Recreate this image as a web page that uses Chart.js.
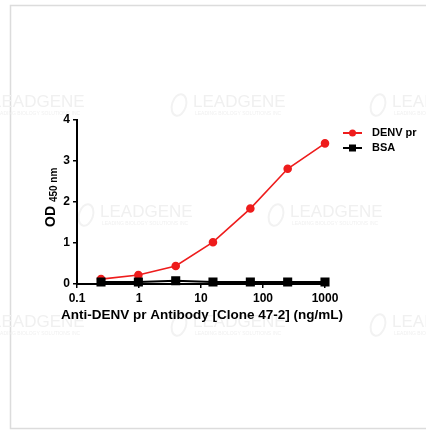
<!DOCTYPE html>
<html>
<head>
<meta charset="utf-8">
<title>Anti-DENV pr Antibody ELISA</title>
<script src="https://cdn.jsdelivr.net/npm/chart.js@4.4.1/dist/chart.umd.min.js"></script>
<style>
  html, body { margin: 0; padding: 0; background: #fff; }
  #canvas { display: block; }
</style>
</head>
<body>
<canvas id="canvas" width="426" height="430"></canvas>
<script>
// concentrations in ng/mL (4-fold dilution from 1000)
var concentrations = [0.244, 0.977, 3.91, 15.6, 62.5, 250, 1000];
var denvValues = [0.12, 0.22, 0.44, 1.02, 1.84, 2.81, 3.43];
var bsaValues = [0.05, 0.05, 0.08, 0.05, 0.05, 0.05, 0.05];
var xTicks = [0.1, 1, 10, 100, 1000];
var yTicks = [0, 1, 2, 3, 4];
var xTitle = 'Anti-DENV pr Antibody [Clone 47-2] (ng/mL)';

var FONT = "Arial, 'Liberation Sans', sans-serif";
Chart.defaults.font.family = FONT;
Chart.defaults.color = '#000';

function toPoints(values) {
    return concentrations.map(function (c, i) { return {x: c, y: values[i]}; });
}

// faint watermark and frame behind the plot
var background = {
    id: 'background',
    beforeDraw: function (chart) {
        var c = chart.ctx;
        c.save();
        c.fillStyle = '#fff';
        c.fillRect(0, 0, chart.width, chart.height);
        c.strokeStyle = '#dcdcdc';
        c.lineWidth = 1.5;
        c.strokeRect(10.5, 5.5, 440, 423);
        var marks = [[-8, 102], [193, 102], [392, 102], [100, 212], [290, 212], [-8, 322], [193, 322], [392, 322]];
        c.textBaseline = 'middle';
        marks.forEach(function (m) {
            c.font = '17px ' + FONT;
            c.fillStyle = '#f0f0f0';
            c.fillText('LEADGENE', m[0], m[1]);
            c.font = '5px ' + FONT;
            c.fillText('LEADING BIOLOGY SOLUTIONS INC', m[0] + 2, m[1] + 12);
            c.strokeStyle = '#f2f2f2';
            c.lineWidth = 2;
            c.beginPath();
            c.ellipse(m[0] - 14, m[1] + 3, 7, 11, 0.3, 0, Math.PI * 2);
            c.stroke();
        });
        c.restore();
    }
};

// axis titles (y with subscript) + legend with line and marker
var annotations = {
    id: 'annotations',
    afterDraw: function (chart) {
        var c = chart.ctx;
        var area = chart.chartArea;
        c.save();
        c.fillStyle = '#000';
        c.font = 'bold 13.5px ' + FONT;
        c.textAlign = 'center';
        c.textBaseline = 'middle';
        c.fillText(xTitle, (area.left + area.right) / 2 + 1, 315);

        c.translate(55, (area.top + area.bottom) / 2 + 25);
        c.rotate(-Math.PI / 2);
        c.textBaseline = 'alphabetic';
        c.textAlign = 'left';
        c.font = 'bold 14px ' + FONT;
        c.fillText('OD', 0, 0);
        var w = c.measureText('OD ').width;
        c.font = 'bold 10px ' + FONT;
        c.fillText('450 nm', w, 2);
        c.restore();

        c.save();
        c.font = 'bold 11px ' + FONT;
        c.textBaseline = 'middle';
        chart.data.datasets.forEach(function (ds, i) {
            var y = 133 + i * 15;
            c.strokeStyle = ds.borderColor;
            c.lineWidth = 2;
            c.beginPath();
            c.moveTo(343, y);
            c.lineTo(362, y);
            c.stroke();
            c.fillStyle = ds.borderColor;
            c.beginPath();
            if (ds.pointStyle === 'rect') {
                c.rect(349, y - 3.5, 7, 7);
            } else {
                c.arc(352.5, y, 3.5, 0, Math.PI * 2);
            }
            c.fill();
            c.fillStyle = '#000';
            c.fillText(ds.label, 372, y);
        });
        c.restore();
    }
};

var ctx = document.getElementById('canvas').getContext('2d');
var myChart = new Chart(ctx, {
    type: 'line',
    data: {
        datasets: [{
            label: 'DENV pr',
            data: toPoints(denvValues),
            borderColor: '#ee1c1c',
            backgroundColor: '#ee1c1c',
            borderWidth: 1.6,
            pointStyle: 'circle',
            pointRadius: 3.5,
            clip: false,
            order: 1
        },
        {
            label: 'BSA',
            data: toPoints(bsaValues),
            borderColor: '#000',
            backgroundColor: '#000',
            borderWidth: 2,
            pointStyle: 'rect',
            pointRadius: 5,
            clip: false,
            order: 0
        }]
    },
    options: {
        responsive: false,
        animation: false,
        devicePixelRatio: 1,
        layout: {
            padding: {left: 0, right: 101, top: 120, bottom: 108}
        },
        elements: {
            line: { tension: 0 }
        },
        plugins: {
            legend: { display: false },
            tooltip: { enabled: false }
        },
        scales: {
            x: {
                type: 'logarithmic',
                min: 0.1,
                max: 1000,
                afterFit: function (scale) { scale.height = 38; },
                afterBuildTicks: function (scale) {
                    scale.ticks = xTicks.map(function (v) { return {value: v}; });
                },
                ticks: {
                    autoSkip: false,
                    maxRotation: 0,
                    padding: 3,
                    font: {size: 12, weight: 'bold'},
                    callback: function (v) { return String(v); }
                },
                grid: {
                    drawOnChartArea: false,
                    drawTicks: true,
                    tickLength: 4,
                    color: '#000',
                    lineWidth: 1.5
                },
                border: { color: '#000', width: 2 },
                title: { display: false }
            },
            y: {
                min: 0,
                max: 4,
                afterFit: function (scale) { scale.width = 77; },
                afterBuildTicks: function (scale) {
                    scale.ticks = yTicks.map(function (v) { return {value: v}; });
                },
                ticks: {
                    padding: 3,
                    font: {size: 12, weight: 'bold'}
                },
                grid: {
                    drawOnChartArea: false,
                    drawTicks: true,
                    tickLength: 4,
                    color: '#000',
                    lineWidth: 1.5
                },
                border: { color: '#000', width: 2 }
            }
        }
    },
    plugins: [background, annotations]
});
</script>
</body>
</html>
